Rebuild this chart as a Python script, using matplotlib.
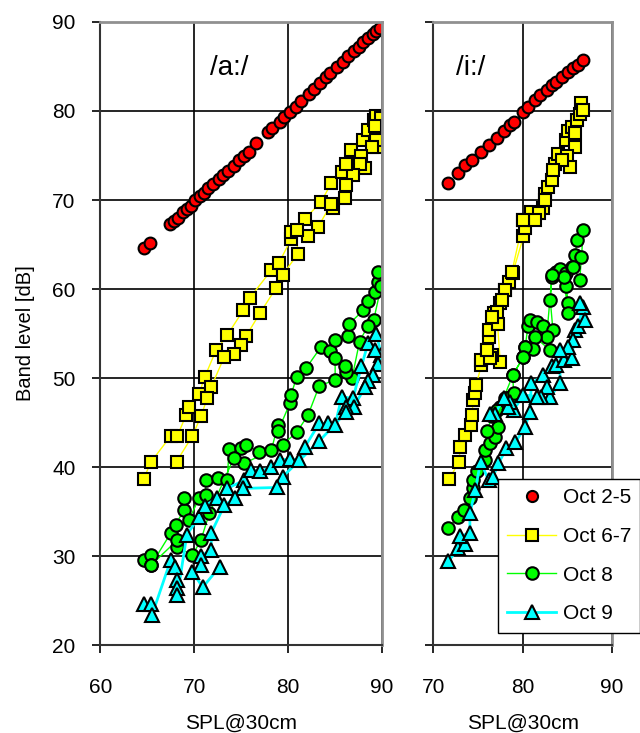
"""Band level vs SPL for the /a:/ and /i:/ vowels, four recording sessions."""

import matplotlib
matplotlib.use('Agg')
import matplotlib.pyplot as plt
from matplotlib.lines import Line2D

plt.rcParams['font.family'] = ['Liberation Sans', 'DejaVu Sans']

# /a:/ panel
A_RED_X = [64.6, 65.3, 67.4, 67.8, 68.3, 68.8, 69.2, 69.6, 70.1, 70.6, 71.0, 71.5,
           72.0, 72.6, 73.1, 73.6, 74.2, 74.8, 75.3, 75.8, 76.6, 77.8, 78.3, 79.1,
           79.6, 80.2, 80.8, 81.4, 82.2, 82.8, 83.4, 84.0, 84.5, 85.2, 85.8, 86.4,
           87.0, 87.5, 88.0, 88.5, 89.0, 89.4, 89.8]
A_RED_Y = [64.6, 65.2, 67.3, 67.6, 68.0, 68.6, 69.0, 69.3, 70.0, 70.4, 70.8, 71.3,
           71.8, 72.4, 72.8, 73.3, 73.8, 74.5, 75.0, 75.4, 76.4, 77.6, 78.1, 78.8,
           79.3, 79.9, 80.5, 81.1, 81.9, 82.5, 83.2, 83.8, 84.3, 84.9, 85.5, 86.2,
           86.7, 87.2, 87.7, 88.2, 88.7, 89.0, 89.3]

A_YEL_X = [64.6, 65.4, 67.5, 68.2, 69.1, 69.4, 70.5, 71.1, 72.3, 73.5, 75.2, 75.9,
           78.2, 79.0, 80.3, 80.3, 81.8, 83.5, 84.6, 85.7, 86.7, 88.0, 88.5, 89.1,
           89.4, 89.9, 89.2, 89.5, 89.4, 88.9, 87.8, 88.2, 87.6, 86.9, 86.2, 86.2,
           86.0, 84.8, 84.6, 83.2, 82.1, 80.9, 81.0, 79.4, 78.7, 77.0, 75.5, 75.0,
           74.2, 73.2, 71.8, 71.4, 70.7, 69.8, 68.1]
A_YEL_Y = [38.7, 40.6, 43.5, 43.5, 45.8, 46.8, 48.2, 50.1, 53.1, 54.8, 57.6, 59.0,
           62.1, 62.9, 65.6, 66.4, 67.9, 69.8, 71.9, 73.2, 75.6, 76.7, 77.9, 79.0,
           79.4, 79.2, 78.3, 76.0, 76.7, 76.0, 74.9, 73.6, 74.1, 72.8, 74.1, 71.7,
           70.2, 69.1, 69.6, 67.0, 65.9, 66.6, 63.9, 61.6, 60.1, 57.3, 54.7, 53.7,
           52.7, 52.4, 49.0, 47.8, 45.7, 43.5, 40.6]

A_GRN_X = [64.6, 65.4, 65.4, 67.5, 68.0, 68.9, 68.9, 69.4, 70.5, 71.2, 71.2, 72.5,
           73.5, 73.7, 75.0, 75.5, 76.9, 78.2, 78.9, 78.9, 80.2, 80.3, 80.9, 81.9,
           83.5, 84.4, 85.0, 86.4, 86.5, 88.0, 88.5, 89.2, 89.6, 89.6, 89.9, 89.1,
           88.5, 87.6, 86.8, 86.2, 86.0, 85.0, 85.0, 83.3, 82.1, 80.9, 79.4, 75.3,
           74.2, 71.6, 70.7, 69.8, 68.2, 68.2, 65.4]
A_GRN_Y = [29.6, 30.1, 29.0, 32.6, 33.5, 35.2, 36.5, 34.0, 36.5, 36.9, 38.5, 38.8,
           38.5, 42.0, 42.1, 42.5, 41.7, 41.9, 44.7, 44.0, 47.2, 48.1, 50.1, 51.1,
           53.5, 53.0, 54.3, 54.7, 56.1, 57.6, 58.7, 59.7, 60.8, 61.9, 60.3, 56.5,
           55.9, 54.1, 50.0, 50.7, 51.3, 52.2, 49.8, 49.1, 45.8, 43.9, 42.5, 40.4,
           41.0, 34.8, 31.8, 30.1, 31.0, 31.8, 29.0]

A_CYN_X = [64.6, 65.4, 65.5, 67.5, 67.9, 68.2, 68.2, 68.2, 69.2, 70.5, 71.1, 72.4,
           73.5, 75.3, 76.0, 77.0, 78.2, 79.1, 80.2, 81.2, 81.8, 83.3, 84.2, 85.0,
           85.7, 86.9, 87.8, 88.5, 89.4, 89.9, 89.2, 89.6, 89.0, 88.5, 88.2, 87.0,
           86.2, 86.2, 83.3, 79.4, 78.8, 75.2, 74.3, 73.2, 71.8, 71.8, 70.7, 70.7,
           69.8, 70.9, 72.7]
A_CYN_Y = [24.6, 24.6, 23.4, 29.6, 28.8, 27.3, 26.4, 25.6, 32.4, 34.4, 35.6, 36.5,
           37.6, 38.5, 39.7, 39.5, 40.0, 40.8, 40.9, 40.8, 42.3, 44.9, 44.9, 44.7,
           47.9, 47.7, 51.3, 53.9, 55.0, 52.6, 53.2, 51.6, 50.3, 49.7, 49.0, 46.8,
           46.8, 46.2, 42.9, 38.9, 37.7, 37.6, 36.5, 35.7, 32.6, 30.7, 30.0, 29.0,
           28.2, 26.5, 28.8]

# /i:/ panel
I_RED_X = [71.7, 72.8, 73.6, 74.3, 75.4, 76.2, 77.1, 77.9, 78.6, 79.0, 80.1, 80.6,
           81.4, 82.0, 82.7, 83.3, 83.8, 84.4, 85.1, 85.7, 86.2, 86.8]
I_RED_Y = [71.9, 73.0, 73.9, 74.5, 75.4, 76.2, 77.0, 77.7, 78.4, 78.8, 79.9, 80.5,
           81.2, 81.8, 82.4, 82.9, 83.3, 83.8, 84.4, 84.8, 85.2, 85.7]

I_YEL_X = [71.8, 72.9, 73.0, 73.6, 74.2, 74.3, 74.5, 74.7, 74.8, 75.4, 75.4, 76.0,
           76.2, 76.2, 76.8, 77.5, 78.0, 78.5, 78.9, 80.1, 80.3, 80.1, 81.0, 82.3,
           82.5, 82.9, 83.3, 83.6, 84.0, 84.9, 85.1, 85.5, 86.1, 86.4, 86.6, 86.8,
           85.9, 85.9, 85.0, 85.3, 84.4, 83.4, 82.5, 81.8, 81.4, 80.1, 78.8, 78.0,
           77.7, 77.3, 77.1, 77.5, 76.6, 76.4, 76.6, 76.0]
I_YEL_Y = [38.7, 40.6, 42.3, 43.6, 44.7, 45.8, 47.5, 48.3, 49.2, 51.5, 52.0, 53.1,
           54.6, 55.4, 57.3, 58.4, 59.9, 60.8, 61.8, 65.9, 66.8, 67.8, 68.7, 69.1,
           70.7, 71.5, 72.2, 74.1, 75.2, 76.7, 77.7, 78.2, 79.0, 79.7, 80.9, 80.1,
           77.5, 76.0, 74.9, 73.7, 74.5, 73.4, 70.0, 68.5, 67.8, 67.8, 61.9, 59.9,
           58.8, 56.1, 57.4, 51.8, 52.6, 52.2, 56.9, 53.1]

I_GRN_X = [71.7, 72.8, 73.4, 74.1, 74.4, 74.5, 74.9, 75.8, 75.8, 76.4, 76.9, 77.3,
           78.0, 78.6, 79.0, 78.9, 80.1, 80.3, 80.6, 80.8, 81.6, 82.3, 83.4, 83.1,
           83.3, 83.8, 84.2, 84.9, 85.5, 85.9, 86.1, 86.8, 86.6, 86.4, 85.7, 84.9,
           85.1, 85.1, 84.6, 83.3, 82.7, 83.1, 81.4, 81.2, 80.3, 80.1, 78.9, 77.5,
           77.1, 76.6, 76.0]
I_GRN_Y = [33.2, 34.4, 35.2, 36.5, 37.6, 38.5, 39.5, 40.8, 41.9, 42.7, 43.4, 44.5,
           47.7, 47.9, 48.3, 50.3, 52.4, 53.5, 55.8, 56.5, 56.3, 55.8, 55.4, 58.8,
           61.4, 61.9, 62.3, 61.8, 62.5, 63.8, 65.5, 66.6, 63.6, 61.0, 62.5, 60.3,
           58.4, 57.3, 61.4, 61.6, 54.6, 53.1, 54.6, 53.3, 53.5, 52.4, 50.3, 46.8,
           46.4, 45.7, 44.0]

I_CYN_X = [71.7, 72.8, 73.6, 73.0, 74.1, 74.1, 74.7, 75.3, 76.2, 76.7, 77.3, 78.2,
           79.2, 80.3, 80.8, 81.0, 82.3, 83.3, 83.8, 84.6, 85.5, 85.9, 86.2, 86.8,
           86.4, 87.0, 85.7, 85.1, 84.2, 84.2, 83.1, 82.7, 82.1, 81.6, 80.1, 79.0,
           78.6, 78.4, 77.9, 76.9, 76.4]
I_CYN_Y = [29.4, 30.9, 31.4, 32.2, 32.6, 34.8, 37.4, 40.6, 38.5, 38.9, 40.4, 42.1,
           42.8, 44.5, 46.2, 49.4, 50.3, 51.3, 51.5, 52.0, 52.2, 55.4, 55.9, 58.0,
           58.4, 56.5, 54.3, 53.5, 53.1, 49.4, 47.9, 49.0, 47.9, 47.9, 48.1, 46.4,
           47.3, 46.8, 47.7, 46.0, 46.0]

SERIES_NAMES = ['Oct 2-5', 'Oct 6-7', 'Oct 8', 'Oct 9']

STYLES = [
    dict(color='none', marker='o', mfc='#ff0000', ms=8.5),
    dict(color='#ffff00', lw=1.0, marker='s', mfc='#ffff00', ms=9),
    dict(color='#00ff00', lw=1.0, marker='o', mfc='#00ff00', ms=9),
    dict(color='#00ffff', lw=2.0, marker='^', mfc='#00ffff', ms=9.5),
]


def draw_panel(ax, series, xlim, label, label_x):
    for (xs, ys), st in zip(series, STYLES):
        ax.plot(xs, ys, mec='black', mew=1.5, **st)
    ax.set_xlim(*xlim)
    ax.set_ylim(20, 90)
    ax.set_xticks(range(xlim[0], xlim[1] + 1, 10))
    ax.set_yticks(range(20, 91, 10))
    ax.grid(True, color='black', lw=1.2)
    ax.set_axisbelow(True)
    ax.tick_params(direction='out', length=6, width=1.2, labelsize=15)
    ax.tick_params(axis='x', pad=18)
    ax.tick_params(axis='y', pad=12)
    for side in ('left', 'bottom'):
        ax.spines[side].set_color('#333333')
        ax.spines[side].set_linewidth(1.5)
    for side in ('top', 'right'):
        ax.spines[side].set_color('#909090')
        ax.spines[side].set_linewidth(2.0)
    ax.set_xlabel('SPL@30cm', fontsize=15, labelpad=12)
    ax.text(label_x, 0.915, label, transform=ax.transAxes, fontsize=20)


fig = plt.figure(figsize=(6.4, 7.33), dpi=100)
ax_a = fig.add_axes([0.157, 0.120, 0.440, 0.850])
ax_i = fig.add_axes([0.677, 0.120, 0.279, 0.850])

draw_panel(ax_a, [(A_RED_X, A_RED_Y), (A_YEL_X, A_YEL_Y),
                  (A_GRN_X, A_GRN_Y), (A_CYN_X, A_CYN_Y)], (60, 90), '/a:/', 0.39)
draw_panel(ax_i, [(I_RED_X, I_RED_Y), (I_YEL_X, I_YEL_Y),
                  (I_GRN_X, I_GRN_Y), (I_CYN_X, I_CYN_Y)], (70, 90), '/i:/', 0.13)
ax_i.tick_params(axis='y', labelleft=False)
ax_a.set_ylabel('Band level [dB]', fontsize=14.5, labelpad=12)

handles = [Line2D([], [], mec='black', mew=1.5, **st) for st in STYLES]
handles[0].set_markersize(8)
leg = fig.legend(handles, SERIES_NAMES, loc='upper left',
                 bbox_to_anchor=(0.778, 0.347), fontsize=15, frameon=True,
                 fancybox=False, borderpad=0.45, labelspacing=0.95,
                 handlelength=2.35, handletextpad=0.3, borderaxespad=0)
leg.get_frame().set_edgecolor('black')
leg.get_frame().set_linewidth(1.0)
leg.get_frame().set_alpha(1)

fig.savefig('out.png', dpi=100)
